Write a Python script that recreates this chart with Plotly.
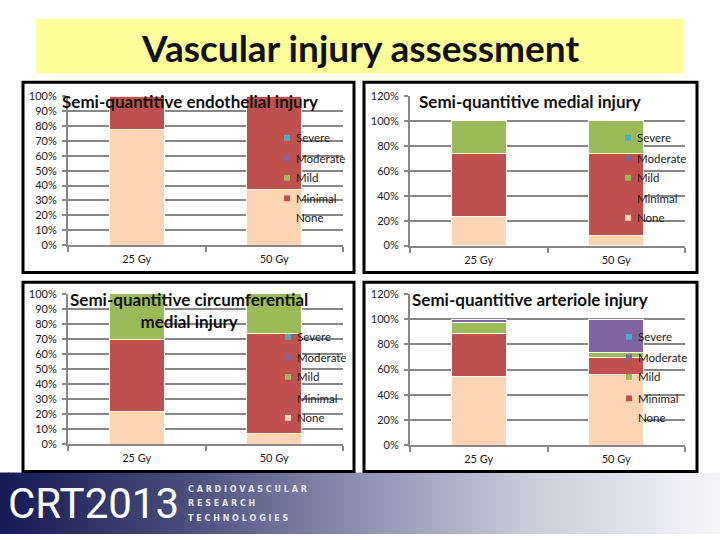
import plotly.graph_objects as go

W, H = 720, 540

categories = ["25 Gy", "50 Gy"]
grades = ["None", "Minimal", "Mild", "Moderate", "Severe"]
grade_colors = ["#FCD5B4", "#C0504D", "#9BBB59", "#8064A2", "#4BACC6"]

# Semi-quantitive endothelial injury
endo_none = [0.78, 0.375]
endo_minimal = [0.22, 0.625]
endo_mild = [0.0, 0.0]
endo_moderate = [0.0, 0.0]
endo_severe = [0.0, 0.0]

# Semi-quantitive medial injury
med_none = [0.23, 0.08]
med_minimal = [0.51, 0.66]
med_mild = [0.26, 0.26]
med_moderate = [0.0, 0.0]
med_severe = [0.0, 0.0]

# Semi-quantitive circumferential medial injury
circ_none = [0.22, 0.07]
circ_minimal = [0.48, 0.67]
circ_mild = [0.30, 0.26]
circ_moderate = [0.0, 0.0]
circ_severe = [0.0, 0.0]

# Semi-quantitive arteriole injury
art_none = [0.545, 0.56]
art_minimal = [0.345, 0.135]
art_mild = [0.08, 0.04]
art_moderate = [0.03, 0.265]
art_severe = [0.0, 0.0]

main_title = "Vascular injury assessment"
panel_titles = [
    "Semi-quantitive endothelial injury",
    "Semi-quantitive medial injury",
    "Semi-quantitive circumferential<br>medial injury",
    "Semi-quantitive arteriole injury",
]

panels = [
    [endo_none, endo_minimal, endo_mild, endo_moderate, endo_severe],
    [med_none, med_minimal, med_mild, med_moderate, med_severe],
    [circ_none, circ_minimal, circ_mild, circ_moderate, circ_severe],
    [art_none, art_minimal, art_mild, art_moderate, art_severe],
]

FONT = "Lato, Calibri, 'Open Sans', sans-serif"


def px(x):
    return x / W


def py(y):
    return 1 - y / H


# layout geometry (pixels)
x_doms = [(68, 343), (410, 685), (68, 343), (410, 685)]
y_doms = [(244, 91.5), (244.5, 91), (448, 294), (449, 294)]
y_max = [1.0, 1.2, 1.0, 1.2]
y_dtick = [0.1, 0.2, 0.1, 0.2]
borders = [(23, 77, 354, 272), (364, 77, 697, 272), (23, 282, 354, 476), (364, 282, 697, 476)]
title_pos = [(190, 97), (530, 97), (189, 311), (530, 300)]
legend_x = [(287, 294), (628, 635), (288, 295), (629, 636)]
legend_y = [[134, 155, 175, 196, 216], [134, 155, 175, 196, 216],
            [338, 359, 379, 401, 421], [338, 359, 379, 401, 421]]
# which legend markers are visible (Severe, Moderate, Mild, Minimal, None)
legend_markers = [
    [True, True, True, True, False],
    [True, True, True, False, True],
    [True, True, True, False, True],
    [True, True, True, True, False],
]

fig = go.Figure()

for i, series in enumerate(panels):
    suffix = "" if i == 0 else str(i + 1)
    for g, vals, col in zip(grades, series, grade_colors):
        if all(v == 0 for v in vals):
            continue
        fig.add_trace(go.Bar(
            x=categories, y=[v if v else None for v in vals], name=g,
            marker=dict(color=col, line=dict(color="white", width=1)),
            width=0.4, showlegend=False,
            xaxis="x" + suffix, yaxis="y" + suffix,
        ))

layout = dict(
    width=W, height=H, margin=dict(l=0, r=0, t=0, b=0),
    paper_bgcolor="white", plot_bgcolor="rgba(0,0,0,0)",
    barmode="stack", showlegend=False,
    font=dict(family=FONT, color="#1a1a1a"),
)

for i in range(4):
    suffix = "" if i == 0 else str(i + 1)
    x0, x1 = x_doms[i]
    y0, y1 = y_doms[i]
    layout["xaxis" + suffix] = dict(
        domain=[px(x0), px(x1)], anchor="y" + suffix,
        showline=True, linecolor="#878787", linewidth=2,
        ticks="outside", ticklen=5, tickcolor="#878787", tickwidth=2,
        tickson="boundaries", showgrid=False,
        tickfont=dict(family=FONT, size=11, color="#1a1a1a"),
        ticklabelstandoff=3,
        fixedrange=True,
    )
    layout["yaxis" + suffix] = dict(
        domain=[py(y0), py(y1)], anchor="x" + suffix,
        range=[0, y_max[i]], dtick=y_dtick[i], tick0=0, tickformat=".0%",
        showline=True, linecolor="#878787", linewidth=2,
        ticks="outside", ticklen=4, tickcolor="#878787", tickwidth=2,
        showgrid=True, gridcolor="#878787", gridwidth=2,
        zeroline=False,
        tickfont=dict(family=FONT, size=11, color="#1a1a1a"),
        ticklabelstandoff=3,
        fixedrange=True,
    )

shapes = []
annotations = []

# yellow title band
shapes.append(dict(type="rect", xref="paper", yref="paper",
                   x0=px(36), x1=px(684), y0=py(68), y1=py(12),
                   fillcolor="#FFFF99", line=dict(width=0), layer="below"))
annotations.append(dict(text="<b>" + main_title + "</b>", xref="paper", yref="paper",
                        x=px(360), y=py(41), showarrow=False,
                        font=dict(family=FONT, size=37, color="#111111"),
                        xanchor="center", yanchor="middle"))

# panel borders
for (bx0, by0, bx1, by1) in borders:
    shapes.append(dict(type="rect", xref="paper", yref="paper",
                       x0=px(bx0), x1=px(bx1), y0=py(by1), y1=py(by0),
                       line=dict(color="black", width=3), fillcolor="rgba(0,0,0,0)"))

# panel titles and legends
legend_order = ["Severe", "Moderate", "Mild", "Minimal", "None"]
legend_cols = ["#4BACC6", "#8064A2", "#9BBB59", "#C0504D", "#FCD5B4"]
for i in range(4):
    tx, ty = title_pos[i]
    annotations.append(dict(text="<b>" + panel_titles[i] + "</b>", xref="paper", yref="paper",
                            x=px(tx), y=py(ty), showarrow=False, align="center",
                            font=dict(family=FONT, size=17, color="#111111"),
                            xanchor="center", yanchor="middle"))
    mx, tx2 = legend_x[i]
    for k, (lab, col) in enumerate(zip(legend_order, legend_cols)):
        ly = legend_y[i][k]
        if legend_markers[i][k]:
            shapes.append(dict(type="rect", xref="paper", yref="paper",
                               x0=px(mx - 3), x1=px(mx + 3), y0=py(ly + 3), y1=py(ly - 3),
                               fillcolor=col, line=dict(width=0)))
        annotations.append(dict(text=lab, xref="paper", yref="paper",
                                x=px(tx2), y=py(ly), showarrow=False,
                                font=dict(family=FONT, size=11.5, color="#1a1a1a"),
                                xanchor="left", yanchor="middle"))

# bottom banner gradient
stops = [(0.0, (22, 26, 84)), (0.25, (72, 76, 122)), (0.5, (142, 144, 176)),
         (0.75, (206, 206, 220)), (1.0, (246, 246, 249))]


def grad(t):
    for (t0, c0), (t1, c1) in zip(stops[:-1], stops[1:]):
        if t0 <= t <= t1:
            f = (t - t0) / (t1 - t0)
            return "rgb(%d,%d,%d)" % tuple(round(a + (b - a) * f) for a, b in zip(c0, c1))
    return "rgb(246,246,249)"


n_strips = 90
sw = W / n_strips
for s in range(n_strips):
    shapes.append(dict(type="rect", xref="paper", yref="paper",
                       x0=px(s * sw), x1=px((s + 1) * sw + 0.5), y0=0, y1=py(477),
                       fillcolor=grad((s + 0.5) / n_strips), line=dict(width=0), layer="below"))

annotations.append(dict(text="CRT2013", xref="paper", yref="paper",
                        x=px(6), y=py(509), showarrow=False,
                        font=dict(family="Roboto, sans-serif", size=42, color="white"),
                        xanchor="left", yanchor="middle"))
for j, word in enumerate(["CARDIOVASCULAR", "RESEARCH", "TECHNOLOGIES"]):
    annotations.append(dict(text="<b>" + " ".join(word) + "</b>", xref="paper", yref="paper",
                            x=px(186), y=py(494 + 15 * j), showarrow=False,
                            font=dict(family="'DejaVu Sans', sans-serif", size=8, color="#e4e4ee"),
                            xanchor="left", yanchor="middle"))

layout["shapes"] = shapes
layout["annotations"] = annotations
fig.update_layout(**layout)

fig.write_html("out.html", config={"displayModeBar": False},
               post_script="document.body.style.margin='0';document.body.style.overflow='hidden';")
